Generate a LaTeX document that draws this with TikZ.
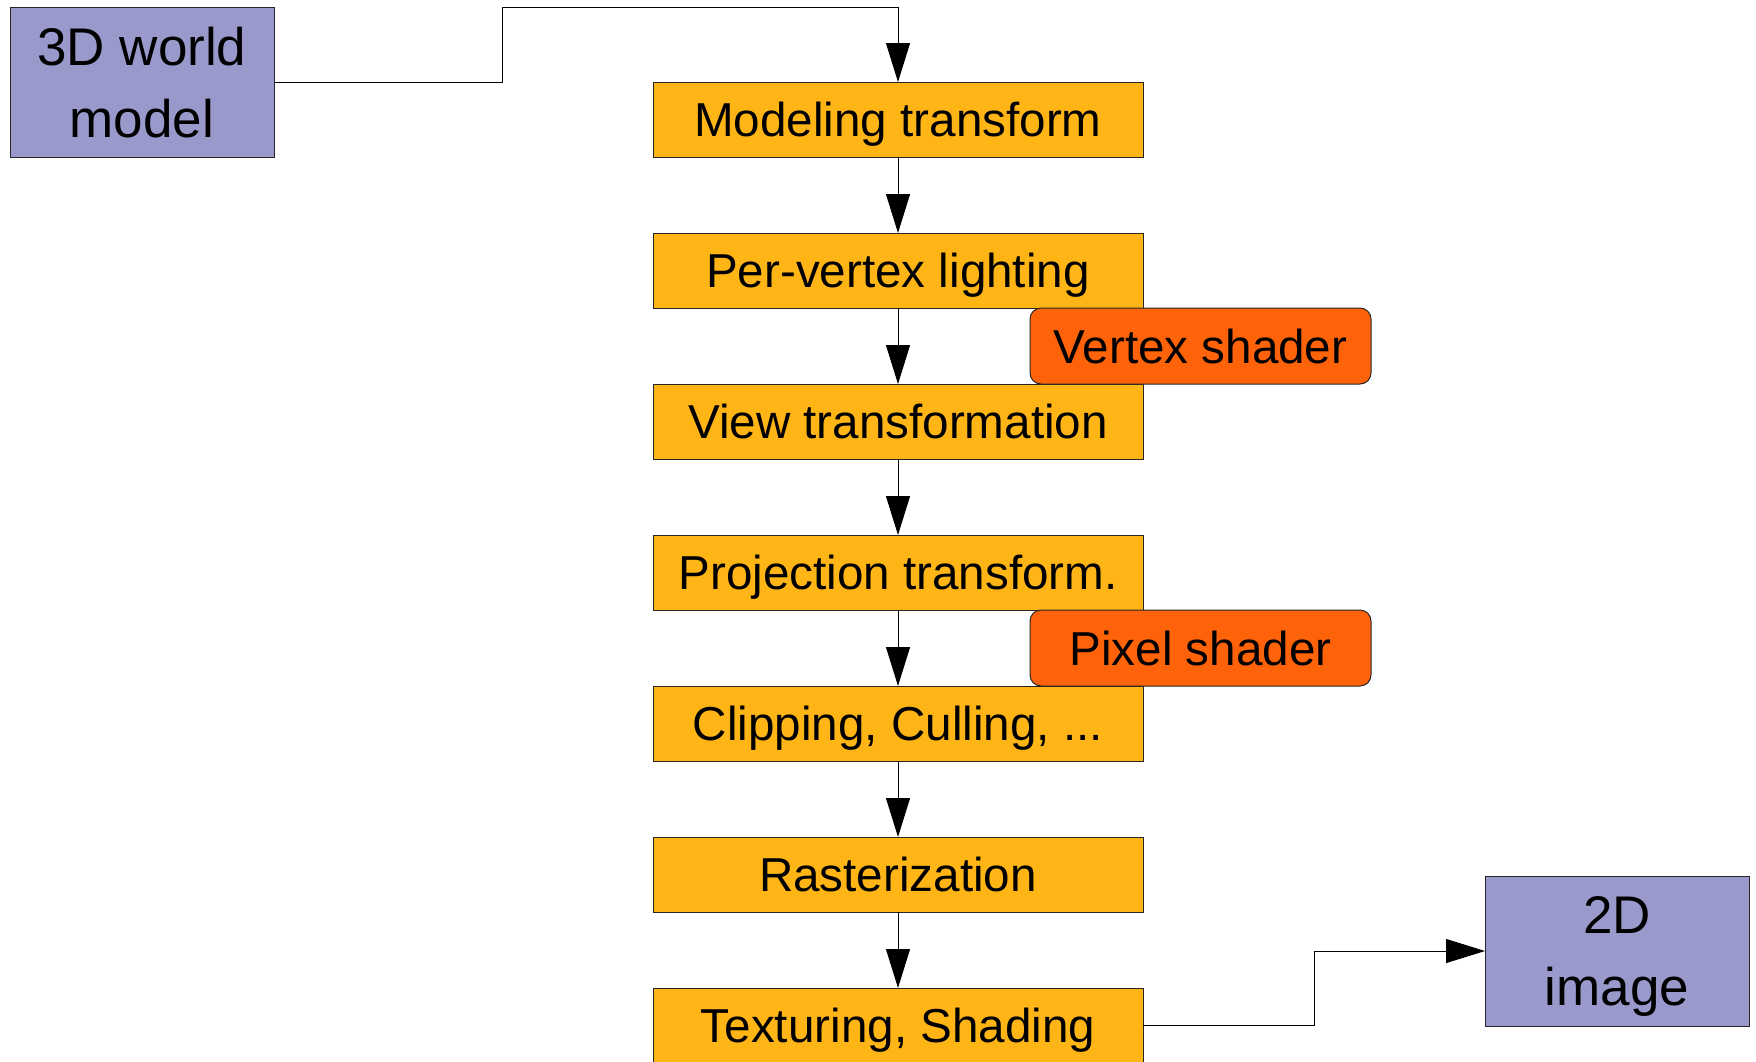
\documentclass[tikz,border=0pt]{standalone}
\usepackage{fontspec}
\setmainfont{Liberation Sans}
\usetikzlibrary{arrows.meta}
\definecolor{stagefill}{HTML}{FFB515}
\definecolor{shaderfill}{HTML}{FF6309}
\definecolor{datafill}{HTML}{9999CC}
\begin{document}
\begin{tikzpicture}[x=0.5pt,y=-0.5pt,
  stage/.style={draw=black!85, fill=stagefill, line width=0.5pt,
    minimum width=245pt, minimum height=37.5pt, inner sep=0pt, outer sep=0pt,
    text height=17.4pt, text depth=0pt,
    font=\fontsize{23.8}{28}\selectfont},
  shader/.style={draw=black!85, fill=shaderfill, line width=0.5pt, rounded corners=5.5pt,
    minimum width=170.5pt, minimum height=38pt, inner sep=0pt, outer sep=0pt,
    text height=17.4pt, text depth=0pt,
    font=\fontsize{23.8}{28}\selectfont},
  data/.style={draw=black!85, fill=datafill, line width=0.5pt,
    minimum width=132pt, minimum height=75pt, inner sep=0pt, outer sep=0pt,
    text depth=0pt,
    align=center, font=\fontsize{26.5}{36}\selectfont},
  flow/.style={draw=black, line width=0.5pt, -{Triangle[length=19.5pt,width=12pt]}}]
  \useasboundingbox (0,0) rectangle (1756,1061);

  % input / output data
  \node[data] (world) at (142,82) {3D world\\model};
  \node[data] (image) at (1617,951) {2D\\image};

  % pipeline stages
  \node[stage] (model) at (898,119.5) {Modeling transform};
  \node[stage] (light) at (898,270.5) {Per-vertex lighting};
  \node[stage] (view)  at (898,421.5) {View transformation};
  \node[stage] (proj)  at (898,572.5) {Projection transform.};
  \node[stage] (clip)  at (898,723.5) {Clipping, Culling, ...};
  \node[stage] (rast)  at (898,874.5) {Rasterization};
  \node[stage] (tex)   at (898,1025.5) {Texturing, Shading};

  % programmable stages
  \node[shader] (vsh) at (1200.5,346) {Vertex shader};
  \node[shader] (psh) at (1200.5,648) {Pixel shader};

  % connectors
  \draw[flow] (world.east) -| (502,7) -| (model.north);
  \draw[flow] (model.south) -- (light.north);
  \draw[flow] (light.south) -- (view.north);
  \draw[flow] (view.south) -- (proj.north);
  \draw[flow] (proj.south) -- (clip.north);
  \draw[flow] (clip.south) -- (rast.north);
  \draw[flow] (rast.south) -- (tex.north);
  \draw[flow] (tex.east) -| (1314,951) -- (image.west);
\end{tikzpicture}
\end{document}
